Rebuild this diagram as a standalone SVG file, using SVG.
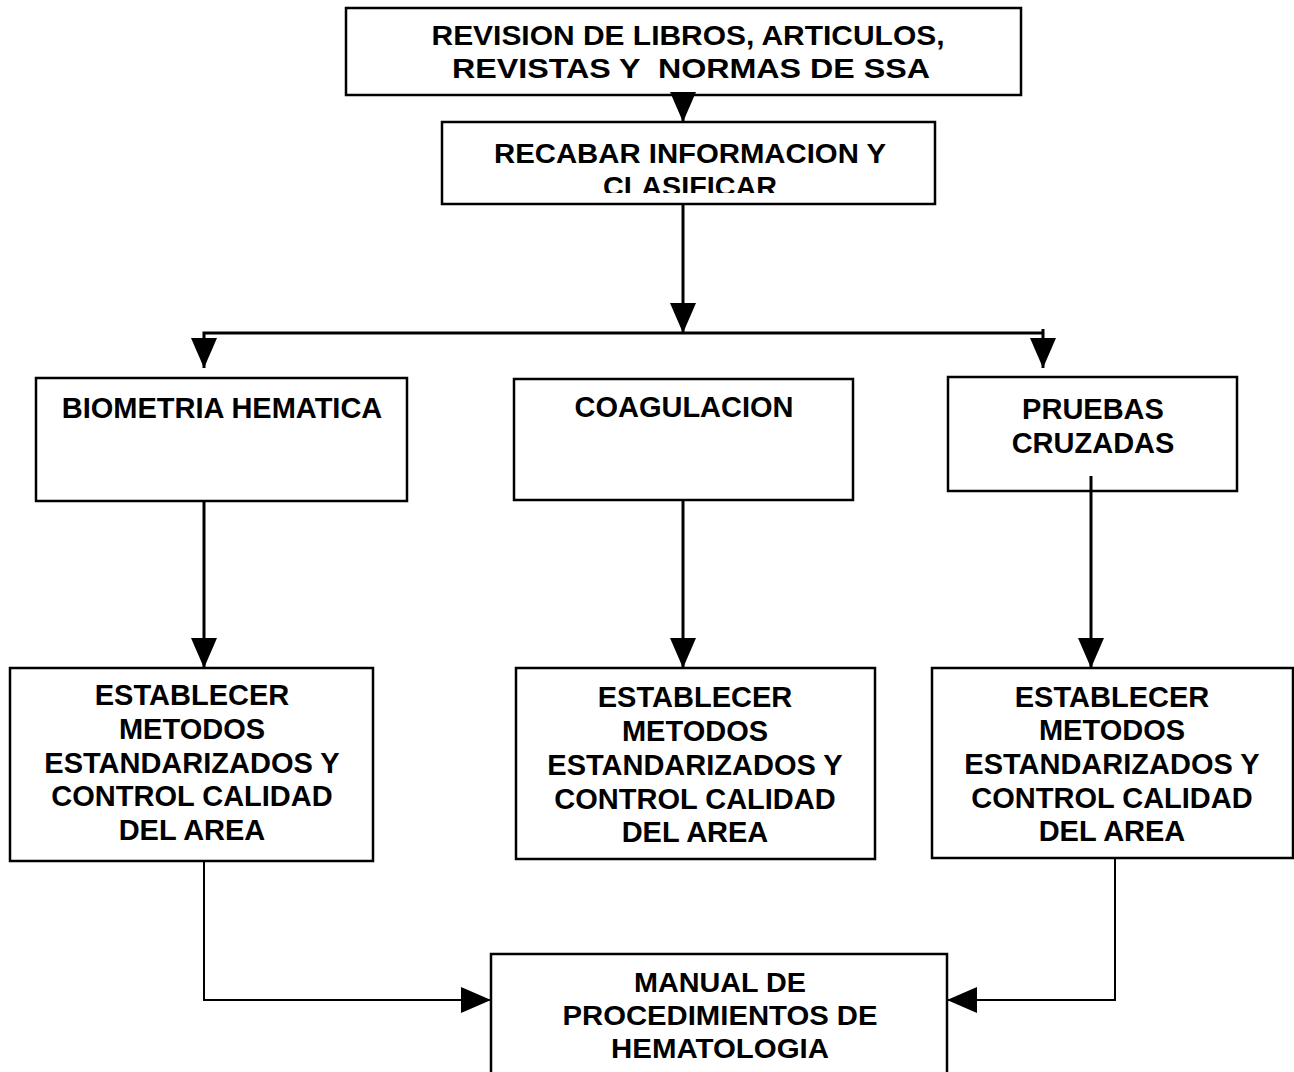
<svg xmlns="http://www.w3.org/2000/svg" width="1294" height="1072" viewBox="0 0 1294 1072">
<style>
.box{fill:#fff;stroke:#000;stroke-width:2.5}
.t{font-family:"Liberation Sans",Arial,sans-serif;font-weight:bold;fill:#000;text-anchor:middle}
.big{font-size:29px}
.sq{font-size:27px}
.sq25{font-size:27px}
.c{fill:none;stroke:#000;stroke-width:3}
.c2{fill:none;stroke:#000;stroke-width:2}
</style>
<defs>
<marker id="ah" markerUnits="userSpaceOnUse" markerWidth="30" markerHeight="26" refX="30" refY="13" orient="auto">
<path d="M0,0 L30,13 L0,26 z" fill="#000"/>
</marker>
<clipPath id="clip2"><rect x="442" y="122" width="493" height="71"/></clipPath>
</defs>
<rect width="1294" height="1072" fill="#fff"/>

<g id="n1">
<rect class="box" x="346" y="8" width="675" height="87"/>
<text class="t sq" x="688" y="45" textLength="513" lengthAdjust="spacingAndGlyphs">REVISION DE LIBROS, ARTICULOS,</text>
<text class="t sq" x="691" y="78" textLength="478" lengthAdjust="spacingAndGlyphs" xml:space="preserve">REVISTAS Y  NORMAS DE SSA</text>
</g>

<g id="n2">
<rect class="box" x="442" y="122" width="493" height="82"/>
<g clip-path="url(#clip2)">
<text class="t sq" x="690" y="163" textLength="392" lengthAdjust="spacingAndGlyphs">RECABAR INFORMACION Y</text>
<text class="t sq" x="690" y="196" textLength="174" lengthAdjust="spacingAndGlyphs">CLASIFICAR</text>
</g>
</g>

<g id="n3">
<rect class="box" x="36" y="378" width="371" height="123"/>
<text class="t big" x="222" y="418">BIOMETRIA HEMATICA</text>
</g>

<g id="n4">
<rect class="box" x="514" y="379" width="339" height="121"/>
<text class="t big" x="684" y="417">COAGULACION</text>
</g>

<g id="n5">
<rect class="box" x="948" y="377" width="289" height="114"/>
<text class="t big" x="1093" y="419">PRUEBAS</text>
<text class="t big" x="1093" y="453">CRUZADAS</text>
</g>

<g id="n6">
<rect class="box" x="10" y="668" width="363" height="193"/>
<text class="t big" x="192" y="705">ESTABLECER</text>
<text class="t big" x="192" y="739">METODOS</text>
<text class="t big" x="192" y="773">ESTANDARIZADOS Y</text>
<text class="t big" x="192" y="806">CONTROL CALIDAD</text>
<text class="t big" x="192" y="840">DEL AREA</text>
</g>

<g id="n7">
<rect class="box" x="516" y="668" width="359" height="191"/>
<text class="t big" x="695" y="707">ESTABLECER</text>
<text class="t big" x="695" y="741">METODOS</text>
<text class="t big" x="695" y="775">ESTANDARIZADOS Y</text>
<text class="t big" x="695" y="809">CONTROL CALIDAD</text>
<text class="t big" x="695" y="842">DEL AREA</text>
</g>

<g id="n8">
<rect class="box" x="932" y="668" width="361" height="190"/>
<text class="t big" x="1112" y="707">ESTABLECER</text>
<text class="t big" x="1112" y="740">METODOS</text>
<text class="t big" x="1112" y="774">ESTANDARIZADOS Y</text>
<text class="t big" x="1112" y="808">CONTROL CALIDAD</text>
<text class="t big" x="1112" y="841">DEL AREA</text>
</g>

<g id="n9">
<rect class="box" x="491" y="954" width="456" height="140"/>
<text class="t sq25" x="720" y="992" textLength="172" lengthAdjust="spacingAndGlyphs">MANUAL DE</text>
<text class="t sq25" x="720" y="1025" textLength="315" lengthAdjust="spacingAndGlyphs">PROCEDIMIENTOS DE</text>
<text class="t sq25" x="720" y="1058" textLength="218" lengthAdjust="spacingAndGlyphs">HEMATOLOGIA</text>
</g>

<g id="connectors">
<path class="c" d="M683,95 V122" marker-end="url(#ah)"/>
<path class="c" d="M683,204 V333" marker-end="url(#ah)"/>
<path class="c" d="M683,333 H204 V368" marker-end="url(#ah)"/>
<path class="c" d="M683,333 H1043"/>
<path class="c" d="M1043,329 V368" marker-end="url(#ah)"/>
<path class="c" d="M204,501 V668" marker-end="url(#ah)"/>
<path class="c" d="M683,500 V668" marker-end="url(#ah)"/>
<path class="c" d="M1091,476 V668" marker-end="url(#ah)"/>
<path class="c2" d="M204,861 V1000 H491" marker-end="url(#ah)"/>
<path class="c2" d="M1115,858 V1000 H947" marker-end="url(#ah)"/>
</g>
</svg>
